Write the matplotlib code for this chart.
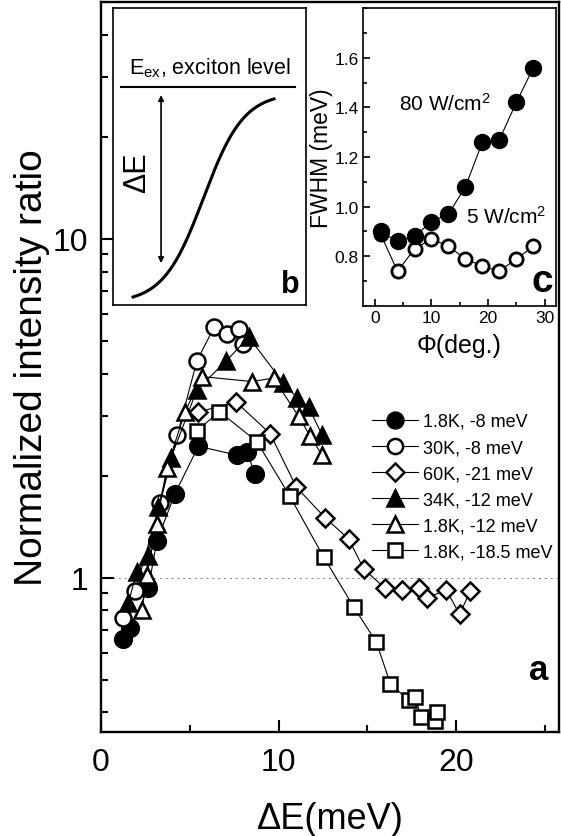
import matplotlib
matplotlib.use("Agg")
import matplotlib.pyplot as plt
import numpy as np
from matplotlib.ticker import LogLocator, NullFormatter, MultipleLocator

plt.rcParams['font.family'] = ['Liberation Sans', 'DejaVu Sans']
plt.rcParams['mathtext.fontset'] = 'custom'
plt.rcParams['mathtext.rm'] = 'Liberation Sans'
plt.rcParams['mathtext.it'] = 'Liberation Sans:italic'

# ---- main panel (a) data ----
labels = ['1.8K, -8 meV', '30K, -8 meV', '60K, -21 meV',
          '34K, -12 meV', '1.8K, -12 meV', '1.8K, -18.5 meV']

x_fc = [1.26, 1.64, 2.67, 3.14, 4.17, 5.48, 7.65, 8.25, 8.65]
y_fc = [0.66, 0.71, 0.93, 1.28, 1.77, 2.44, 2.30, 2.35, 2.02]

x_oc = [1.26, 1.92, 3.33, 4.3, 5.4, 6.37, 7.09, 7.78, 8.0]
y_oc = [0.76, 0.91, 1.66, 2.63, 4.36, 5.48, 5.24, 5.42, 4.9]

x_od = [5.49, 7.6, 9.53, 11.0, 12.63, 13.95, 14.8, 16.0, 16.96, 17.9, 18.37, 19.44, 20.2, 20.8]
y_od = [3.08, 3.30, 2.66, 1.85, 1.50, 1.30, 1.06, 0.93, 0.92, 0.93, 0.87, 0.92, 0.78, 0.91]

x_ft = [1.54, 2.01, 2.67, 3.23, 3.95, 5.4, 7.05, 8.33, 10.28, 11.04, 11.7, 12.45]
y_ft = [0.84, 1.04, 1.16, 1.62, 2.26, 3.58, 4.36, 5.12, 3.75, 3.39, 3.18, 2.64]

x_ot = [2.3, 2.58, 3.14, 3.7, 4.74, 5.68, 8.5, 9.72, 11.13, 11.79, 12.45]
y_ot = [0.80, 1.02, 1.44, 2.10, 3.09, 3.92, 3.79, 3.88, 2.99, 2.61, 2.30]

x_sq = [5.4, 6.67, 8.78, 10.62, 12.54, 14.23, 15.51, 16.3, 17.33, 17.71, 18.03, 18.84, 18.93]
y_sq = [2.71, 3.09, 2.52, 1.745, 1.15, 0.82, 0.645, 0.486, 0.434, 0.443, 0.387, 0.378, 0.40]

# ---- inset (c) data ----
phi = [1, 4, 7, 10, 13, 16, 19, 22, 25, 28]
fwhm_80 = [0.90, 0.86, 0.88, 0.94, 0.97, 1.08, 1.26, 1.27, 1.42, 1.56]
fwhm_5 = [0.89, 0.74, 0.83, 0.87, 0.84, 0.79, 0.76, 0.74, 0.79, 0.84]

W, H = 561, 837
fig = plt.figure(figsize=(W / 100, H / 100), dpi=100)


def px_rect(x0, y0, x1, y1):
    return [x0 / W, 1 - y1 / H, (x1 - x0) / W, (y1 - y0) / H]


# ---- main axes ----
ax = fig.add_axes(px_rect(101, 3, 559, 733))
series = [
    (x_fc, y_fc, 'o', 'black', 12),
    (x_oc, y_oc, 'o', 'white', 11.5),
    (x_od, y_od, 'D', 'white', 9.5),
    (x_ft, y_ft, '^', 'black', 12),
    (x_ot, y_ot, '^', 'white', 12),
    (x_sq, y_sq, 's', 'white', 10.5),
]
for (xs, ys, m, fc, ms), lab in zip(series, labels):
    ax.plot(xs, ys, '-', color='black', lw=0.8, marker=m, ms=ms,
            mfc=fc, mec='black', mew=1.8, label=lab)

ax.axhline(1, color='gray', lw=0.7, ls=(0, (2, 4)), zorder=0)
ax.set_yscale('log')
ax.set_xlim(0, 25.8)
ax.set_ylim(0.35, 50)
ax.set_xticks([0, 10, 20])
ax.xaxis.set_minor_locator(MultipleLocator(5))
ax.set_yticks([1, 10])
ax.set_yticklabels(['1', '10'])
ax.yaxis.set_minor_locator(LogLocator(base=10, subs=np.arange(2, 10)))
ax.yaxis.set_minor_formatter(NullFormatter())
ax.tick_params(which='major', direction='in', length=9, width=1.5, labelsize=23)
ax.tick_params(which='minor', direction='in', length=5, width=1.5)
ax.tick_params(axis='x', which='major', pad=11)
ax.tick_params(axis='y', which='major', pad=9)
for s in ax.spines.values():
    s.set_linewidth(1.7)
ax.set_xlabel('ΔE(meV)', fontsize=26, labelpad=17)
ax.set_ylabel('Normalized intensity ratio', fontsize=28, labelpad=2)
ax.text(0.955, 0.085, 'a', transform=ax.transAxes, fontsize=25,
        fontweight='bold', ha='center', va='center')

leg = ax.legend(loc='upper left', bbox_to_anchor=(372 / W, 1 - 414 / H),
                bbox_transform=fig.transFigure, frameon=False, fontsize=13,
                handlelength=2.55, handletextpad=0.3, labelspacing=0.5,
                borderpad=0, borderaxespad=0, markerscale=0.95)

# ---- inset (b): schematic ----
axb = fig.add_axes(px_rect(113, 9, 306, 306))
axb.set_xlim(0, 1)
axb.set_ylim(0, 1)
axb.set_xticks([])
axb.set_yticks([])
for s in axb.spines.values():
    s.set_linewidth(1.2)
t = np.linspace(0, 1, 200)
curve_x = 0.104 + t * (0.834 - 0.104)
sig = 1 / (1 + np.exp(-(t - 0.5) * 7))
sig = (sig - sig[0]) / (sig[-1] - sig[0])
axb.plot(curve_x, 0.027 + sig * (0.694 - 0.027), color='black', lw=2.2)
axb.plot([0.041, 0.943], [0.734, 0.734], color='black', lw=1.5)
axb.annotate('', xy=(0.249, 0.141), xytext=(0.249, 0.707),
             arrowprops=dict(arrowstyle='<|-|>', color='black', lw=1.2,
                             mutation_scale=8, shrinkA=0, shrinkB=0))
axb.text(0.503, 0.80, r'E$_{\rm ex}$, exciton level', fontsize=15.5,
         ha='center', va='center')
axb.text(0.124, 0.45, 'ΔE', fontsize=22, rotation=90, ha='center', va='center')
axb.text(0.917, 0.07, 'b', fontsize=22, fontweight='bold', ha='center', va='center')

# ---- inset (c): FWHM vs angle ----
axc = fig.add_axes(px_rect(363, 9, 556, 307))
axc.plot(phi, fwhm_5, '-', color='black', lw=0.8, marker='o', ms=9.5,
         mfc='white', mec='black', mew=2)
axc.plot(phi, fwhm_80, '-', color='black', lw=0.8, marker='o', ms=11.5,
         mfc='black', mec='black')
axc.set_xlim(-2.1, 32)
axc.set_ylim(0.6, 1.8)
axc.set_xticks([0, 10, 20, 30])
axc.xaxis.set_minor_locator(MultipleLocator(5))
axc.set_yticks([0.8, 1.0, 1.2, 1.4, 1.6])
axc.yaxis.set_minor_locator(MultipleLocator(0.1))
axc.tick_params(which='major', direction='in', length=5, width=1.2, labelsize=12.5, pad=3)
axc.tick_params(which='minor', direction='in', length=3, width=1.2)
for s in axc.spines.values():
    s.set_linewidth(1.2)
axc.set_xlabel('Φ(deg.)', fontsize=18, labelpad=6)
axc.set_ylabel('FWHM (meV)', fontsize=16.5, labelpad=1)
axc.text(12.4, 1.42, r'80 W/cm$^2$', fontsize=15, ha='center', va='center')
axc.text(23.2, 0.965, r'5 W/cm$^2$', fontsize=15, ha='center', va='center')
axc.text(29.6, 0.70, 'c', fontsize=28, fontweight='bold', ha='center', va='center')

fig.savefig('out.png', dpi=100, facecolor='white')
